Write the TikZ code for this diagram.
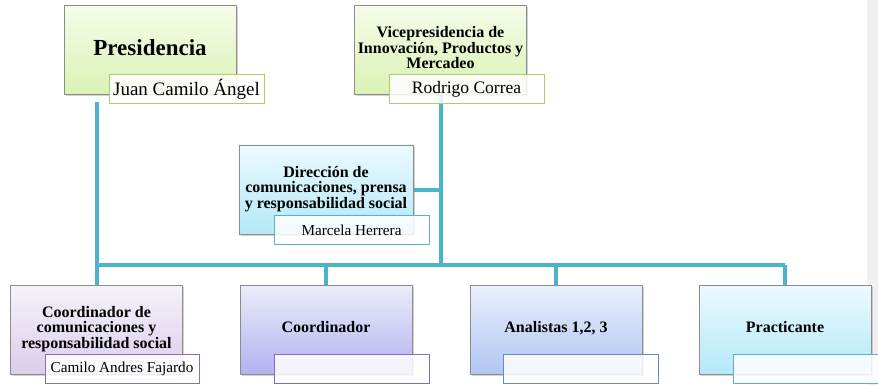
\documentclass[tikz,border=0pt]{standalone}
\usepackage{fontspec}
\setmainfont{Liberation Serif}
\usetikzlibrary{shadows,backgrounds}

\definecolor{linkblue}{RGB}{75,180,205}
\definecolor{boxgray}{RGB}{140,140,140}
\definecolor{greentop}{RGB}{246,252,234}
\definecolor{greenbot}{RGB}{218,242,180}
\definecolor{greenline}{RGB}{170,205,110}
\definecolor{cyantop}{RGB}{236,250,255}
\definecolor{cyanbot}{RGB}{180,232,248}
\definecolor{cyanline}{RGB}{80,180,205}
\definecolor{lilactop}{RGB}{246,242,250}
\definecolor{lilacbot}{RGB}{218,206,236}
\definecolor{lilacline}{RGB}{140,110,180}
\definecolor{violettop}{RGB}{236,236,250}
\definecolor{violetbot}{RGB}{178,178,240}
\definecolor{violetline}{RGB}{125,110,200}
\definecolor{bluetop}{RGB}{234,240,252}
\definecolor{bluebot}{RGB}{176,198,244}
\definecolor{blueline}{RGB}{100,140,205}

\newcommand{\unittext}[2]{\raisebox{#1}{\begin{tabular}{@{}c@{}}#2\end{tabular}}}

\tikzset{
  unitbox/.style={draw=boxgray, line width=0.7pt, minimum width=172pt,
    minimum height=89pt, align=center, inner sep=2pt,
    font=\bfseries\fontsize{16}{15.2}\selectfont,
    drop shadow={shadow xshift=1.5pt, shadow yshift=-2pt, opacity=0.35}},
  namebox/.style={fill=white, fill opacity=0.85, text opacity=1,
    line width=1pt, minimum width=155pt, minimum height=29pt,
    inner sep=0pt, font=\fontsize{15.2}{17}\selectfont},
  link/.style={draw=linkblue, line width=4pt}
}

\begin{document}
\begin{tikzpicture}[x=1pt,y=-1pt]
    \useasboundingbox (0,0) rectangle (878,385);
    \fill[black!6] (867,0) rectangle (878,385);

    % levels of the chart
    \coordinate (bus) at (0,265);

    \node[unitbox, top color=greentop, bottom color=greenbot,
      font=\bfseries\fontsize{23}{25}\selectfont] (pres) at (150,50)
      {\raisebox{5pt}{Presidencia}};
    \node[unitbox, top color=greentop, bottom color=greenbot] (vice) at (440.5,50)
      {\unittext{6pt}{Vicepresidencia de\\Innovación, Productos y\\Mercadeo}};
    \node[unitbox, top color=cyantop, bottom color=cyanbot, minimum width=174pt]
      (dir) at (326,189.5)
      {\unittext{6.5pt}{Dirección de\\comunicaciones, prensa\\y responsabilidad social}};

    \node[unitbox, top color=lilactop, bottom color=lilacbot] (c1) at (96.5,329.5)
      {\unittext{5.5pt}{Coordinador de\\comunicaciones y\\responsabilidad social}};
    \node[unitbox, top color=violettop, bottom color=violetbot] (c2) at (326,329.5)
      {\raisebox{4.5pt}{Coordinador}};
    \node[unitbox, top color=bluetop, bottom color=bluebot] (c3) at (556,329.5)
      {\raisebox{4.5pt}{Analistas 1,2, 3}};
    \node[unitbox, top color=cyantop, bottom color=cyanbot] (c4) at (785,329.5)
      {\raisebox{4.5pt}{Practicante}};

    % names
    \node[namebox, draw=greenline, font=\fontsize{19}{21}\selectfont] (juan) at (186.5,89.5) {Juan Camilo Ángel};
    \node[namebox, draw=greenline, font=\fontsize{17.5}{19}\selectfont] (rodrigo) at (466.5,89.5) {Rodrigo Correa};
    \node[namebox, draw=cyanline] (marcela) at (351.5,230) {Marcela Herrera};
    \node[namebox, draw=lilacline, minimum width=154pt] (camilo) at (122,369) {Camilo Andres Fajardo};
    \node[namebox, draw=violetline] (n2) at (352,369) {};
    \node[namebox, draw=blueline] (n3) at (581,369) {};
    \node[namebox, draw=cyanline, anchor=west] (n4) at (733,369) {};

    % connectors
    \begin{scope}[on background layer]
    \draw[link] (vice.south) -- (vice.south |- bus);
    \draw[link] (dir.east) -- (dir.east -| vice.south);
    \draw[link] ([yshift=-7pt]pres.south -| c1.north) -- (c1.north);
    \draw[link] (c1.north |- bus) -- (c4.north |- bus);
    \draw[link] (c2.north |- bus) -- (c2.north);
    \draw[link] (c3.north |- bus) -- (c3.north);
    \draw[link] (c4.north |- bus) -- (c4.north);
    \end{scope}
\end{tikzpicture}
\end{document}
